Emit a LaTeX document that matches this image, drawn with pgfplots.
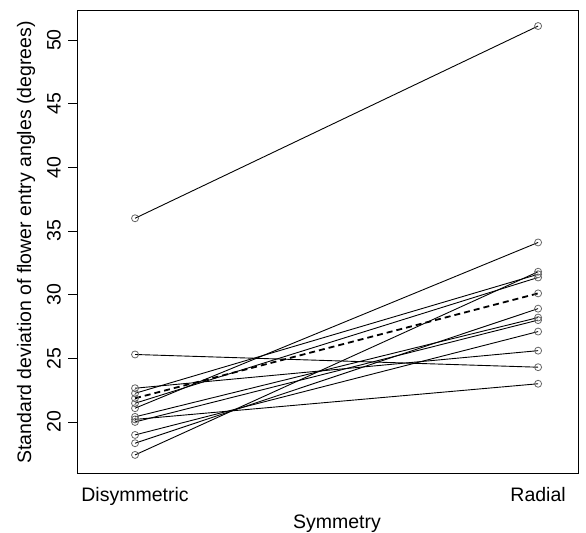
\documentclass[border=0pt]{standalone}
\usepackage{fontspec}
\setmainfont{Liberation Sans}
\usepackage{pgfplots}
\pgfplotsset{compat=1.18}
\begin{document}
\begin{tikzpicture}
\path[use as bounding box] (-77bp,-60bp) rectangle (509bp,473bp);
\begin{axis}[
  scale only axis, width=501bp, height=463bp,
  at={(0,0)}, anchor=south west,
  xmin=0.856, xmax=2.099, ymin=15.99, ymax=52.36,
  xtick={1,2}, xticklabels={Disymmetric,Radial},
  ytick={20,25,30,35,40,45,50},
  tick pos=left,
  font=\fontsize{19.5bp}{23bp}\selectfont,
  /pgf/number format/assume math mode=true,
  axis line style={line width=0.9bp},
  tick align=outside, major tick length=9bp,
  tick style={black, line width=0.9bp},
  xtick style={draw=none},
  xticklabel style={anchor=north, inner sep=0pt},
  xticklabel shift=5bp,
  yticklabel style={rotate=90, anchor=south, inner sep=0pt},
  yticklabel shift=7bp,
  xlabel={Symmetry},
  ylabel={Standard deviation of flower entry angles (degrees)},
  xlabel style={at={(axis description cs:0.519,-0.119)}, anchor=base, inner sep=0pt},
  ylabel style={at={(axis description cs:-0.0918,0.498)}, anchor=base, inner sep=0pt},
  ln/.style={black, line width=0.9bp, mark=o, mark size=3.5bp,
    mark options={draw=black!60, line width=0.8bp, solid}},
]
\addplot[ln] coordinates {(1,36.0) (2,51.1)};
\addplot[ln] coordinates {(1,25.3) (2,24.3)};
\addplot[ln] coordinates {(1,22.65) (2,25.6)};
\addplot[ln] coordinates {(1,22.25) (2,31.6)};
\addplot[ln] coordinates {(1,21.47) (2,31.35)};
\addplot[ln] coordinates {(1,21.08) (2,34.1)};
\addplot[ln] coordinates {(1,20.4) (2,28.2)};
\addplot[ln] coordinates {(1,20.2) (2,23.0)};
\addplot[ln] coordinates {(1,20.0) (2,28.0)};
\addplot[ln] coordinates {(1,18.98) (2,27.1)};
\addplot[ln] coordinates {(1,18.33) (2,28.9)};
\addplot[ln] coordinates {(1,17.41) (2,31.8)};
\addplot[ln, line width=1.8bp, dash pattern=on 6bp off 4bp] coordinates {(1,21.86) (2,30.1)};
\end{axis}
\end{tikzpicture}
\end{document}
